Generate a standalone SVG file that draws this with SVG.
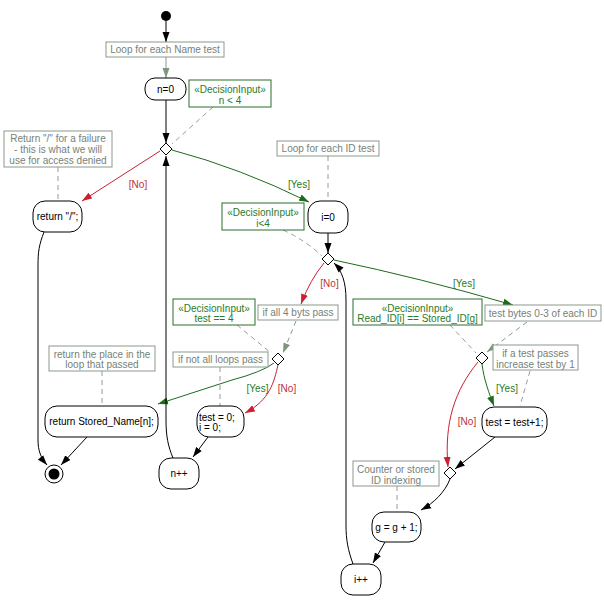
<svg xmlns="http://www.w3.org/2000/svg" width="604" height="608" viewBox="0 0 604 608">
  <style>
    text { font-family: "Liberation Sans", Arial, sans-serif; font-size: 10px; text-anchor: middle; }
    .node rect { fill: #fff; stroke: #000; stroke-width: 1; }
    .node text { fill: #000; }
    .note rect { fill: #fff; stroke: #8c998c; stroke-width: 1; }
    .note text { fill: #768276; }
    .dec rect { fill: #fff; stroke: #2a6e2a; stroke-width: 1; }
    .dec text { fill: #2a7a2a; }
    .diamond { fill: #fff; stroke: #000; stroke-width: 1; }
    .flow { fill: none; stroke: #000; stroke-width: 1; }
    .yes { fill: none; stroke: #1d6b1d; stroke-width: 1; }
    .no { fill: none; stroke: #cc1f2f; stroke-width: 1; }
    .anchor { fill: none; stroke: #9a9a9a; stroke-width: 1; stroke-dasharray: 5 4; }
    .notelink { fill: none; stroke: #8c998c; stroke-width: 1; }
    .lblyes { fill: #2a7a2a; }
    .lblno { fill: #c0303a; }
  </style>
  <defs>
    <marker id="arrow" markerUnits="userSpaceOnUse" markerWidth="10" markerHeight="8" refX="10" refY="4" orient="auto">
      <path d="M0,0.5 L10,4 L0,7.5 Z" fill="#000"/>
    </marker>
    <marker id="arrowYes" markerUnits="userSpaceOnUse" markerWidth="10" markerHeight="8" refX="10" refY="4" orient="auto">
      <path d="M0,0.5 L10,4 L0,7.5 Z" fill="#1d6b1d"/>
    </marker>
    <marker id="arrowNo" markerUnits="userSpaceOnUse" markerWidth="10" markerHeight="8" refX="10" refY="4" orient="auto">
      <path d="M0,0.5 L10,4 L0,7.5 Z" fill="#cc1f2f"/>
    </marker>
    <marker id="arrowNote" markerUnits="userSpaceOnUse" markerWidth="10" markerHeight="8" refX="10" refY="4" orient="auto">
      <path d="M0,0.5 L10,4 L0,7.5 Z" fill="#7f967f"/>
    </marker>
  </defs>

  <!-- connectors -->
  <g id="connectors">
    <!-- control flow -->
    <path class="flow" d="M166,21 L166,42" marker-end="url(#arrow)"/>
    <path class="notelink" d="M166,57 L166,78" marker-end="url(#arrowNote)"/>
    <path class="flow" d="M166,100 L166,143" marker-end="url(#arrow)"/>
    <path class="no" d="M160,151 L82,201" marker-end="url(#arrowNo)"/>
    <path class="yes" d="M172,150 Q240,168 309,202" marker-end="url(#arrowYes)"/>
    <path class="flow" d="M328,233 L328,253" marker-end="url(#arrow)"/>
    <path class="yes" d="M334,260 Q420,278 513,305" marker-end="url(#arrowYes)"/>
    <path class="no" d="M324,263 Q310,280 301,304" marker-end="url(#arrowNo)"/>
    <path class="notelink" d="M296,321 L283,353" stroke-dasharray="5 4" marker-end="url(#arrowNote)"/>
    <path class="yes" d="M274,363 Q262,372 232,380 L158,404" marker-end="url(#arrowYes)"/>
    <path class="no" d="M278,365 C274,382 270,400 245,413" marker-end="url(#arrowNo)"/>
    <path class="flow" d="M208,437 L193,457" marker-end="url(#arrow)"/>
    <path class="flow" d="M173,458 C168,446 166,436 166,420 L166,156" marker-end="url(#arrow)"/>
    <path class="flow" d="M44,232 C39,245 38,252 38,265 L38,440 C38,451 41,458 47,465" marker-end="url(#arrow)"/>
    <path class="flow" d="M87,437 L61,465" marker-end="url(#arrow)"/>
    <path class="notelink" d="M527,322 L487,352" stroke-dasharray="5 4" marker-end="url(#arrowNote)"/>
    <path class="yes" d="M482,364 C484,380 489,393 494,406" marker-end="url(#arrowYes)"/>
    <path class="no" d="M478,362 C455,390 444,422 448,467" marker-end="url(#arrowNo)"/>
    <path class="flow" d="M495,437 L455,469" marker-end="url(#arrow)"/>
    <path class="flow" d="M450,479 C445,492 434,503 421,510" marker-end="url(#arrow)"/>
    <path class="flow" d="M385,542 L373,563" marker-end="url(#arrow)"/>
    <path class="flow" d="M353,564 C348,550 346,540 346,525 L346,300 C346,282 342,271 334,263" marker-end="url(#arrow)"/>

    <!-- note and decision-input anchors -->
    <path class="anchor" d="M213,107 L172,144"/>
    <path class="anchor" d="M58,167 L58,201"/>
    <path class="anchor" d="M328,156 L328,201"/>
    <path class="anchor" d="M283,230 Q305,240 322,256"/>
    <path class="anchor" d="M237,325 L271,353"/>
    <path class="anchor" d="M220,367 L220,406"/>
    <path class="anchor" d="M102,371 L102,406"/>
    <path class="anchor" d="M450,325 L476,353"/>
    <path class="anchor" d="M530,371 L520,406"/>
    <path class="anchor" d="M397,486 L397,512"/>
  </g>

  <!-- initial and final nodes -->
  <g id="start"><circle cx="166" cy="16" r="5" fill="#000"/></g>
  <g id="end">
    <circle cx="54" cy="474" r="9" fill="#fff" stroke="#000" stroke-width="1"/>
    <circle cx="54" cy="474" r="5.5" fill="#000"/>
  </g>

  <!-- decision / merge nodes -->
  <g id="decisionName"><path class="diamond" d="M166,143 L172,149 L166,155 L160,149 Z"/></g>
  <g id="decisionId"><path class="diamond" d="M328,253 L334,259 L328,265 L322,259 Z"/></g>
  <g id="decisionAllPass"><path class="diamond" d="M278,353 L284,359 L278,365 L272,359 Z"/></g>
  <g id="decisionByte"><path class="diamond" d="M482,352 L488,358 L482,364 L476,358 Z"/></g>
  <g id="mergeByte"><path class="diamond" d="M450,467 L456,473 L450,479 L444,473 Z"/></g>

  <!-- action nodes -->
  <g id="n0" class="node"><rect x="145" y="78" width="41" height="22" rx="10"/><text x="165.5" y="92.5">n=0</text></g>
  <g id="retFail" class="node"><rect x="33" y="201" width="49" height="31" rx="12"/><text x="57.5" y="220">return "/";</text></g>
  <g id="i0" class="node"><rect x="308" y="201" width="40" height="32" rx="12"/><text x="328" y="220.5">i=0</text></g>
  <g id="retName" class="node"><rect x="45" y="406" width="113" height="31" rx="12"/><text x="101.5" y="425">return Stored_Name[n];</text></g>
  <g id="reset" class="node"><rect x="197" y="406" width="47" height="31" rx="12"/>
    <text x="199" y="421" style="text-anchor:start">test = 0;</text>
    <text x="199" y="431" style="text-anchor:start">i = 0;</text></g>
  <g id="nInc" class="node"><rect x="159" y="458" width="40" height="31" rx="12"/><text x="179" y="477">n++</text></g>
  <g id="testInc" class="node"><rect x="482" y="407" width="65" height="30" rx="12"/><text x="514.5" y="425.5">test = test+1;</text></g>
  <g id="gInc" class="node"><rect x="372" y="512" width="49" height="30" rx="12"/><text x="396.5" y="530.5">g = g + 1;</text></g>
  <g id="iInc" class="node"><rect x="341" y="564" width="40" height="31" rx="12"/><text x="361" y="583">i++</text></g>

  <!-- notes -->
  <g id="noteNameLoop" class="note"><rect x="106" y="42" width="118" height="15"/><text x="165" y="53">Loop for each Name test</text></g>
  <g id="noteFail" class="note"><rect x="4" y="131" width="108" height="36"/>
    <text x="58" y="142">Return "/" for a failure</text>
    <text x="58" y="153">- this is what we will</text>
    <text x="58" y="164">use for access denied</text></g>
  <g id="noteIdLoop" class="note"><rect x="277" y="141" width="102" height="15"/><text x="328" y="152">Loop for each ID test</text></g>
  <g id="noteAllPass" class="note"><rect x="258" y="305" width="80" height="15"/><text x="298" y="316">if all 4 byts pass</text></g>
  <g id="noteBytes" class="note"><rect x="485" y="305" width="116" height="16"/><text x="543" y="317">test bytes 0-3 of each ID</text></g>
  <g id="noteNotAll" class="note"><rect x="173" y="352" width="95" height="15"/><text x="220.5" y="363">if not all loops pass</text></g>
  <g id="notePlace" class="note"><rect x="49" y="346" width="106" height="25"/>
    <text x="102" y="357.5">return the place in the</text>
    <text x="102" y="368">loop that passed</text></g>
  <g id="noteTestPass" class="note"><rect x="493" y="345" width="85" height="25"/>
    <text x="535.5" y="357">if a test passes</text>
    <text x="535.5" y="367.5">increase test by 1</text></g>
  <g id="noteCounter" class="note"><rect x="353" y="461" width="86" height="25"/>
    <text x="396" y="473">Counter or stored</text>
    <text x="396" y="483.5">ID indexing</text></g>

  <!-- decision inputs -->
  <g id="decInName" class="dec"><rect x="189" y="80" width="82" height="27"/>
    <text x="230" y="93">«DecisionInput»</text><text x="230" y="104">n &lt; 4</text></g>
  <g id="decInId" class="dec"><rect x="222" y="203" width="82" height="27"/>
    <text x="263" y="216">«DecisionInput»</text><text x="263" y="227">i&lt;4</text></g>
  <g id="decInAll" class="dec"><rect x="173" y="299" width="82" height="26"/>
    <text x="214" y="312">«DecisionInput»</text><text x="214" y="322">test == 4</text></g>
  <g id="decInByte" class="dec"><rect x="353" y="299" width="129" height="26"/>
    <text x="417.5" y="312">«DecisionInput»</text><text x="417.5" y="322">Read_ID[i] == Stored_ID[g]</text></g>

  <!-- guard labels -->
  <g id="guards">
    <text class="lblno" x="138" y="188">[No]</text>
    <text class="lblyes" x="299" y="188">[Yes]</text>
    <text class="lblno" x="329.5" y="287">[No]</text>
    <text class="lblyes" x="464" y="287">[Yes]</text>
    <text class="lblyes" x="257.5" y="392">[Yes]</text>
    <text class="lblno" x="287" y="392">[No]</text>
    <text class="lblyes" x="507" y="392">[Yes]</text>
    <text class="lblno" x="467" y="425">[No]</text>
  </g>
</svg>
